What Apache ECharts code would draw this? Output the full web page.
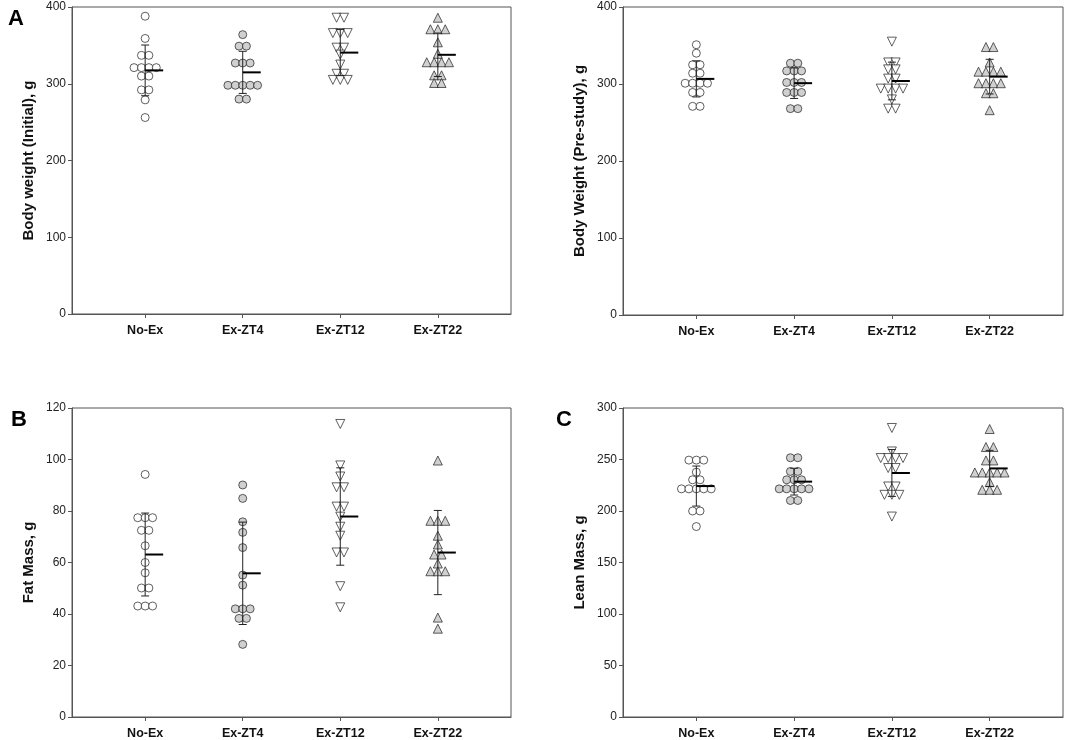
<!DOCTYPE html>
<html>
<head>
<meta charset="utf-8">
<script src="https://cdn.jsdelivr.net/npm/echarts@6/dist/echarts.min.js"></script>
<style>
  html, body { margin: 0; padding: 0; background: #fff; }
  #main { width: 1065px; height: 740px; }
</style>
</head>
<body>
<div id="main"></div>
<script>
// group names on the x axis
var groups = ['No-Ex', 'Ex-ZT4', 'Ex-ZT12', 'Ex-ZT22'];

// Body weight (Initial), g  -- equal values sit on one row
var initNoEx = [388, 359, 337, 337, 321, 321, 321, 321, 310, 310, 292, 292, 279, 256];
var initZT4 = [364, 349, 349, 327, 327, 327, 298, 298, 298, 298, 298, 280, 280];
var initZT12 = [386, 386, 366, 366, 366, 347, 347, 338, 325, 313, 313, 305, 305, 305];
var initZT22 = [386, 371, 371, 371, 354, 339, 328, 328, 328, 328, 311, 311, 301, 301];

// Body Weight (Pre-study), g
var preNoEx = [351, 340, 325, 325, 314, 314, 301, 301, 301, 301, 289, 289, 271, 271];
var preZT4 = [327, 327, 317, 317, 317, 302, 302, 302, 289, 289, 289, 268, 268];
var preZT12 = [355, 328, 328, 319, 319, 307, 307, 294, 294, 294, 294, 280, 268, 268];
var preZT22 = [348, 348, 328, 316, 316, 316, 316, 301, 301, 301, 301, 288, 288, 266];

// Fat Mass, g
var fatNoEx = [94.2, 77.4, 77.4, 77.4, 72.5, 72.5, 66.5, 60, 56, 50.1, 50.1, 43.1, 43.1, 43.1];
var fatZT4 = [90.1, 84.9, 75.8, 71.7, 65.8, 55.1, 51.2, 42, 42, 42, 38.3, 38.3, 28.2];
var fatZT12 = [113.8, 97.7, 93.4, 89.2, 89.2, 81.7, 81.7, 77.8, 73.9, 70.4, 63.9, 63.9, 50.8, 42.6];
var fatZT22 = [99.6, 76.2, 76.2, 76.2, 70.4, 67, 63.1, 63.1, 59.6, 56.6, 56.6, 56.6, 38.6, 34.3];

// Lean Mass, g
var leanNoEx = [249.4, 249.4, 249.4, 237.7, 230.3, 230.3, 221.5, 221.5, 221.5, 221.5, 221.5, 200, 200, 184.9];
var leanZT4 = [251.7, 251.7, 238.4, 238.4, 230.3, 230.3, 230.3, 221.5, 221.5, 221.5, 221.5, 221.5, 210.2, 210.2];
var leanZT12 = [280.6, 257.8, 251.4, 251.4, 251.4, 251.4, 241.7, 241.7, 223.8, 223.8, 215.7, 215.7, 215.7, 194.6];
var leanZT22 = [279.6, 262.1, 262.1, 249.1, 249.1, 237.4, 237.4, 237.4, 237.4, 237.4, 228, 220.6, 220.6, 220.6];

// y tick settings per panel
var yMax = [400, 400, 120, 300];
var yStep = [100, 100, 20, 50];
var yNames = ['Body weight (Initial), g', 'Body Weight (Pre-study), g', 'Fat Mass, g', 'Lean Mass, g'];
var panelData = [
  [initNoEx, initZT4, initZT12, initZT22],
  [preNoEx, preZT4, preZT12, preZT22],
  [fatNoEx, fatZT4, fatZT12, fatZT22],
  [leanNoEx, leanZT4, leanZT12, leanZT22]
];

var FONT = '"Liberation Sans", Arial, sans-serif';
var markers = [
  { symbol: 'circle', fill: '#ffffff', rotate: 0 },
  { symbol: 'circle', fill: '#c4c4c4', rotate: 0 },
  { symbol: 'triangle', fill: '#ffffff', rotate: 180 },
  { symbol: 'triangle', fill: '#c4c4c4', rotate: 0 }
];
var STEP = 0.076; // horizontal spacing of points sharing a row

function jitter(values, center) {
  var counts = {}, seen = {};
  values.forEach(function (v) { counts[v] = (counts[v] || 0) + 1; });
  return values.map(function (v) {
    var i = seen[v] || 0;
    seen[v] = i + 1;
    return [center + (i - (counts[v] - 1) / 2) * STEP, v];
  });
}

function stats(values) {
  var n = values.length;
  var m = values.reduce(function (a, b) { return a + b; }, 0) / n;
  var ss = values.reduce(function (a, b) { return a + (b - m) * (b - m); }, 0);
  return [m, Math.sqrt(ss / (n - 1))];
}

var grids = [
  { left: 72, top: 7, width: 439, height: 307 },
  { left: 623, top: 7, width: 440, height: 308 },
  { left: 72, top: 408, width: 439, height: 309 },
  { left: 623, top: 408, width: 440, height: 309 }
];

var option = {
  backgroundColor: '#fff',
  animation: false,
  title: [
    { text: 'A', left: 3, top: 3, textStyle: { fontFamily: FONT, fontSize: 22, fontWeight: 'bold', color: '#000' } },
    { text: 'B', left: 6, top: 404, textStyle: { fontFamily: FONT, fontSize: 22, fontWeight: 'bold', color: '#000' } },
    { text: 'C', left: 551, top: 404, textStyle: { fontFamily: FONT, fontSize: 22, fontWeight: 'bold', color: '#000' } }
  ],
  grid: grids.map(function (g) {
    return Object.assign({ show: true, borderColor: '#555', borderWidth: 1, backgroundColor: 'transparent' }, g);
  }),
  xAxis: [],
  yAxis: [],
  series: []
};

for (var p = 0; p < 4; p++) {
  option.xAxis.push({
    type: 'value', gridIndex: p, min: 0.25, max: 4.75,
    splitLine: { show: false },
    axisLine: { lineStyle: { color: '#555' } },
    axisTick: { customValues: [1, 2, 3, 4], length: 4, lineStyle: { color: '#555' } },
    axisLabel: {
      customValues: [1, 2, 3, 4], margin: 10,
      fontFamily: FONT, fontSize: 12.5, fontWeight: 'bold', color: '#111',
      formatter: function (v) { return groups[Math.round(v) - 1]; }
    }
  });
  option.yAxis.push({
    type: 'value', gridIndex: p, min: 0, max: yMax[p], interval: yStep[p],
    name: yNames[p], nameLocation: 'middle', nameGap: 36, nameRotate: 90,
    nameTextStyle: { fontFamily: FONT, fontSize: 15, fontWeight: 'bold', color: '#111' },
    splitLine: { show: false },
    axisLine: { show: true, lineStyle: { color: '#555' } },
    axisTick: { show: true, length: 4, lineStyle: { color: '#555' } },
    axisLabel: { fontFamily: FONT, fontSize: 12, color: '#222', margin: 6 }
  });

  var summary = [];
  panelData[p].forEach(function (vals, gi) {
    var mk = markers[gi];
    option.series.push({
      type: 'scatter', xAxisIndex: p, yAxisIndex: p,
      symbol: mk.symbol, symbolSize: mk.symbol === 'circle' ? 8 : 9, symbolRotate: mk.rotate,
      itemStyle: { color: mk.fill, borderColor: '#222', borderWidth: 0.9 },
      data: jitter(vals, gi + 1), z: 2
    });
    var s = stats(vals);
    summary.push([gi + 1, s[0], s[1]]);
  });

  option.series.push({
    type: 'custom', xAxisIndex: p, yAxisIndex: p, z: 5,
    data: summary,
    renderItem: function (params, api) {
      var x = api.value(0), m = api.value(1), sd = api.value(2);
      var top = api.coord([x, m + sd]);
      var bot = api.coord([x, m - sd]);
      var mid = api.coord([x, m]);
      var thin = { stroke: '#222', lineWidth: 1 };
      return {
        type: 'group',
        children: [
          { type: 'line', shape: { x1: top[0], y1: top[1], x2: bot[0], y2: bot[1] }, style: thin },
          { type: 'line', shape: { x1: top[0] - 4, y1: top[1], x2: top[0] + 4, y2: top[1] }, style: thin },
          { type: 'line', shape: { x1: bot[0] - 4, y1: bot[1], x2: bot[0] + 4, y2: bot[1] }, style: thin },
          { type: 'line', shape: { x1: mid[0], y1: mid[1], x2: mid[0] + 18, y2: mid[1] }, style: { stroke: '#000', lineWidth: 2 } }
        ]
      };
    }
  });
}

var chart = echarts.init(document.getElementById('main'));
chart.setOption(option);
</script>
</body>
</html>
